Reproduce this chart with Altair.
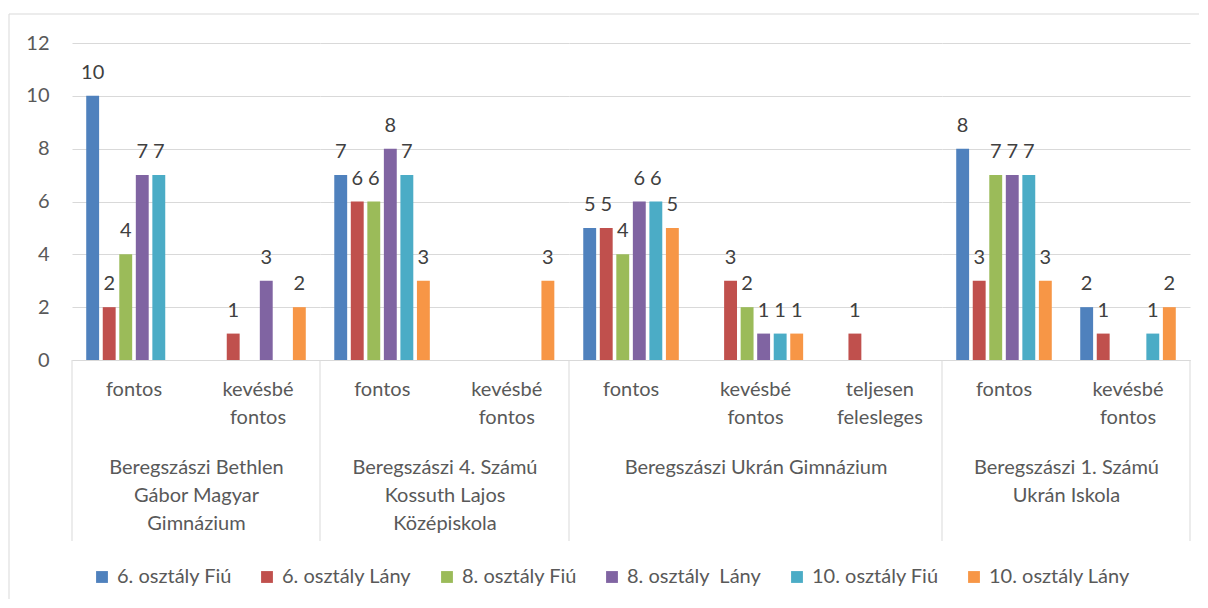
import altair as alt
import pandas as pd

schools = [
    "Beregszászi Bethlen Gábor Magyar Gimnázium",
    "Beregszászi 4. Számú Kossuth Lajos Középiskola",
    "Beregszászi Ukrán Gimnázium",
    "Beregszászi 1. Számú Ukrán Iskola",
]
school_titles = [
    ["Beregszászi Bethlen", "Gábor Magyar", "Gimnázium"],
    ["Beregszászi 4. Számú", "Kossuth Lajos", "Középiskola"],
    ["Beregszászi Ukrán Gimnázium"],
    ["Beregszászi 1. Számú", "Ukrán Iskola"],
]
school_cats = [
    ["fontos", "kevésbé fontos"],
    ["fontos", "kevésbé fontos"],
    ["fontos", "kevésbé fontos", "teljesen felesleges"],
    ["fontos", "kevésbé fontos"],
]
series = ["6. osztály Fiú", "6. osztály Lány", "8. osztály Fiú",
          "8. osztály  Lány", "10. osztály Fiú", "10. osztály Lány"]
colors = ["#4F81BD", "#C0504D", "#9BBB59", "#8064A2", "#4BACC6", "#F79646"]

# values per category, in order: school 1 (2 cats), school 2 (2), school 3 (3), school 4 (2)
v_6_fiu = [10, None, 7, None, 5, None, None, 8, 2]
v_6_lany = [2, 1, 6, None, 5, 3, 1, 3, 1]
v_8_fiu = [4, None, 6, None, 4, 2, None, 7, None]
v_8_lany = [7, 3, 8, None, 6, 1, None, 7, None]
v_10_fiu = [7, None, 7, None, 6, 1, None, 7, 1]
v_10_lany = [None, 2, 3, 3, 5, 1, None, 3, 2]
all_vals = [v_6_fiu, v_6_lany, v_8_fiu, v_8_lany, v_10_fiu, v_10_lany]

rows = []
k = 0
for si, cats in enumerate(school_cats):
    for c in cats:
        for s, vals in zip(series, all_vals):
            if vals[k] is not None:
                rows.append({"school": schools[si], "cat": c, "series": s, "value": vals[k]})
        k += 1
df = pd.DataFrame(rows)

H = 317
widths = [248, 249, 373, 248]
GRID = "#D9D9D9"
TXT = "#595959"
FS = 20
one = pd.DataFrame({"a": [0]})


def panel(i):
    W = widths[i]
    first = i == 0
    last = i == len(widths) - 1
    d = df[df.school == schools[i]]
    if first:
        yaxis = alt.Axis(values=[0, 2, 4, 6, 8, 10, 12], title=None, domain=False, ticks=False,
                         labelFontSize=FS, labelColor=TXT, labelPadding=23, gridColor=GRID)
    else:
        yaxis = alt.Axis(values=[0, 2, 4, 6, 8, 10, 12], title=None, domain=False, ticks=False,
                         labels=False, gridColor=GRID, minExtent=0, maxExtent=0)
    x = alt.X("cat:N", sort=school_cats[i],
              scale=alt.Scale(domain=school_cats[i], paddingInner=0.2, paddingOuter=0.1),
              axis=alt.Axis(title=school_titles[i], labelExpr="split(datum.label, ' ')",
                            labelAngle=0, labelFontSize=FS, labelColor=TXT, labelLineHeight=28,
                            labelPadding=19, ticks=False, domainColor=GRID,
                            titleFontSize=FS, titleFontWeight="normal", titleColor=TXT,
                            titleLineHeight=28, titlePadding=30))
    xo = alt.XOffset("series:N", sort=series,
                     scale=alt.Scale(domain=series, paddingInner=0.22, paddingOuter=0.11))
    y = alt.Y("value:Q", scale=alt.Scale(domain=[0, 12]), axis=yaxis)
    color = alt.Color("series:N", sort=series, scale=alt.Scale(domain=series, range=colors),
                      legend=alt.Legend(title=None, orient="none", direction="horizontal",
                                        legendX=20, legendY=H + 207,
                                        labelExpr="replace(datum.label, '  ', ' \u00a0')",
                                        symbolType="square", symbolSize=140, symbolStrokeWidth=0,
                                        labelFontSize=FS, labelColor=TXT, columnPadding=25,
                                        labelOffset=5))
    bars = alt.Chart(d).mark_bar().encode(x=x, xOffset=xo, y=y, color=color)
    labels = alt.Chart(d).mark_text(baseline="alphabetic", dy=-17, fontSize=FS,
                                    color="#404040").encode(x=x, xOffset=xo, y=y, text="value:Q")
    layers = [bars, labels]
    # group separator lines below the axis
    layers.append(alt.Chart(one).mark_rule(color=GRID).encode(
        x=alt.value(W), y=alt.value(H), y2=alt.value(H + 181)))
    # outer chart border (top)
    x0 = -63 if first else 0
    x1 = W + 9 if last else W
    layers.append(alt.Chart(one).mark_rule(color=GRID).encode(
        x=alt.value(x0), x2=alt.value(x1), y=alt.value(-29)))
    if first:
        layers.append(alt.Chart(one).mark_rule(color=GRID).encode(
            x=alt.value(0), y=alt.value(H), y2=alt.value(H + 181)))
        layers.append(alt.Chart(one).mark_rule(color=GRID).encode(
            x=alt.value(-63), y=alt.value(-29), y2=alt.value(556)))
    return alt.layer(*layers).properties(width=W, height=H)


chart = alt.hconcat(*[panel(i) for i in range(4)], spacing=0, bounds="flush").properties(
    padding={"left": 0, "top": 5, "right": 0, "bottom": 0}
).configure(font="Lato").configure_view(stroke=None)

chart.save("out.html", embed_options={"renderer": "svg", "actions": False})
